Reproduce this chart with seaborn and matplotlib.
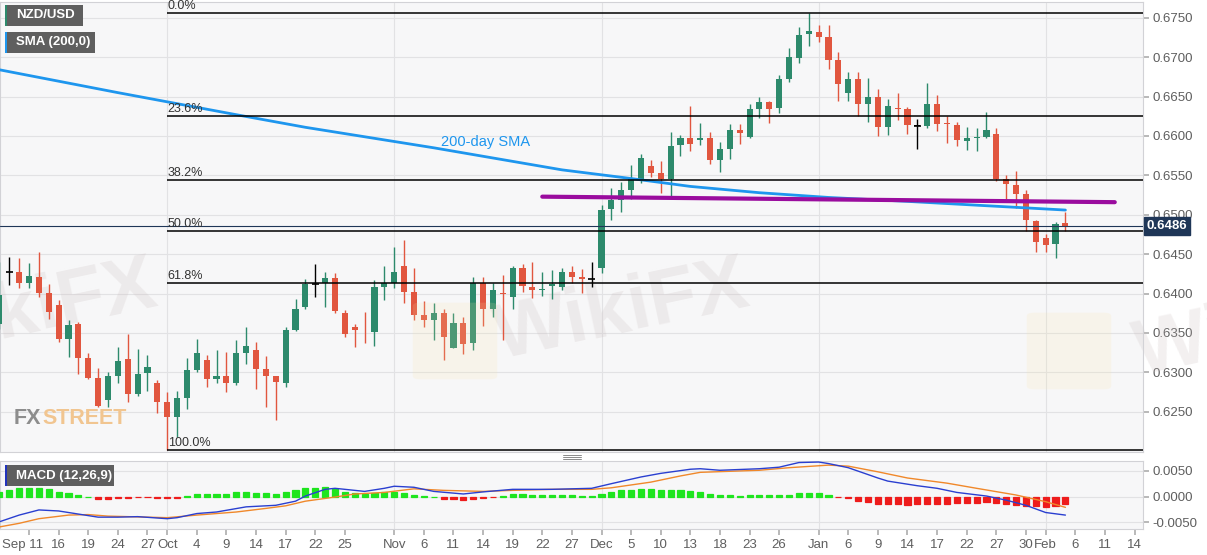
import matplotlib
matplotlib.use('Agg')
import matplotlib.pyplot as plt
import matplotlib.patches as mpatches
import matplotlib.transforms as mtransforms
from matplotlib.lines import Line2D
import seaborn as sns
import pandas as pd
import numpy as np

# trading-day axis (weekdays only, as on the source chart)
axis_days = pd.bdate_range('2019-09-06', '2020-02-14')
pos = {d.strftime('%Y-%m-%d'): i for i, d in enumerate(axis_days)}

# NZD/USD daily candles, 2019-09-06 .. 2020-02-05
opens = [0.6362, 0.6427, 0.6428, 0.6414, 0.6421, 0.6401, 0.6385, 0.6342, 0.6361, 0.6318,
         0.6293, 0.6265, 0.6296, 0.6317, 0.6273, 0.6299, 0.6286, 0.6262, 0.6244, 0.6267,
         0.6303, 0.6316, 0.6291, 0.6296, 0.6287, 0.6325, 0.6329, 0.6304, 0.6295, 0.6286,
         0.6354, 0.6383, 0.6412, 0.6413, 0.6420, 0.6376, 0.6357, 0.6353, 0.6351, 0.6408,
         0.6414, 0.6435, 0.6402, 0.6373, 0.6366, 0.6375, 0.6331, 0.6363, 0.6337, 0.6413,
         0.6380, 0.6401, 0.6396, 0.6432, 0.6409, 0.6404, 0.6410, 0.6409, 0.6428, 0.6421,
         0.6418, 0.6432, 0.6507, 0.6519, 0.6532, 0.6546, 0.6562, 0.6553, 0.6546, 0.6588,
         0.6598, 0.6595, 0.6598, 0.6569, 0.6583, 0.6607, 0.6599, 0.6634, 0.6643, 0.6636,
         0.6672, 0.6699, 0.6729, 0.6732, 0.6726, 0.6697, 0.6655, 0.6672, 0.6641, 0.6649,
         0.6612, 0.6636, 0.6634, 0.6613, 0.6613, 0.6641, 0.6617, 0.6614, 0.6594, 0.6597,
         0.6599, 0.6603, 0.6545, 0.6538, 0.6527, 0.6492, 0.6470, 0.6463, 0.6490]
highs = [0.6440, 0.6447, 0.6445, 0.6439, 0.6453, 0.6412, 0.6392, 0.6367, 0.6364, 0.6324,
         0.6306, 0.6301, 0.6332, 0.6349, 0.6330, 0.6322, 0.6290, 0.6275, 0.6277, 0.6318,
         0.6343, 0.6322, 0.6328, 0.6326, 0.6341, 0.6358, 0.6339, 0.6321, 0.6296, 0.6357,
         0.6393, 0.6418, 0.6438, 0.6428, 0.6426, 0.6379, 0.6362, 0.6377, 0.6417, 0.6435,
         0.6459, 0.6468, 0.6433, 0.6391, 0.6388, 0.6381, 0.6375, 0.6370, 0.6421, 0.6421,
         0.6414, 0.6424, 0.6435, 0.6438, 0.6440, 0.6427, 0.6430, 0.6432, 0.6435, 0.6431,
         0.6440, 0.6512, 0.6534, 0.6541, 0.6563, 0.6577, 0.6570, 0.6568, 0.6605, 0.6601,
         0.6638, 0.6616, 0.6605, 0.6592, 0.6615, 0.6615, 0.6641, 0.6649, 0.6645, 0.6677,
         0.6712, 0.6738, 0.6756, 0.6741, 0.6741, 0.6706, 0.6681, 0.6681, 0.6673, 0.6659,
         0.6647, 0.6654, 0.6637, 0.6622, 0.6667, 0.6652, 0.6625, 0.6618, 0.6611, 0.6610,
         0.6630, 0.6610, 0.6550, 0.6556, 0.6532, 0.6493, 0.6476, 0.6491, 0.6503]
lows = [0.6355, 0.6411, 0.6407, 0.6407, 0.6396, 0.6368, 0.6339, 0.6320, 0.6298, 0.6291,
        0.6256, 0.6256, 0.6286, 0.6263, 0.6270, 0.6277, 0.6248, 0.6202, 0.6218, 0.6254,
        0.6301, 0.6282, 0.6286, 0.6275, 0.6284, 0.6311, 0.6279, 0.6256, 0.6239, 0.6282,
        0.6352, 0.6381, 0.6396, 0.6383, 0.6375, 0.6345, 0.6332, 0.6337, 0.6333, 0.6392,
        0.6407, 0.6388, 0.6367, 0.6358, 0.6341, 0.6316, 0.6331, 0.6323, 0.6329, 0.6359,
        0.6370, 0.6341, 0.6380, 0.6402, 0.6395, 0.6397, 0.6393, 0.6404, 0.6413, 0.6401,
        0.6409, 0.6426, 0.6493, 0.6504, 0.6520, 0.6540, 0.6548, 0.6528, 0.6523, 0.6575,
        0.6581, 0.6588, 0.6565, 0.6554, 0.6571, 0.6590, 0.6598, 0.6623, 0.6616, 0.6629,
        0.6668, 0.6693, 0.6714, 0.6719, 0.6685, 0.6644, 0.6645, 0.6625, 0.6618, 0.6600,
        0.6601, 0.6620, 0.6603, 0.6584, 0.6610, 0.6606, 0.6591, 0.6587, 0.6582, 0.6581,
        0.6598, 0.6543, 0.6520, 0.6509, 0.6480, 0.6453, 0.6453, 0.6445, 0.6480]
closes = [0.6398, 0.6427, 0.6413, 0.6422, 0.6401, 0.6377, 0.6342, 0.6360, 0.6318, 0.6293,
          0.6258, 0.6296, 0.6315, 0.6273, 0.6298, 0.6307, 0.6263, 0.6244, 0.6267, 0.6303,
          0.6325, 0.6291, 0.6296, 0.6287, 0.6324, 0.6333, 0.6304, 0.6295, 0.6288, 0.6354,
          0.6380, 0.6412, 0.6412, 0.6420, 0.6378, 0.6349, 0.6354, 0.6352, 0.6408, 0.6414,
          0.6428, 0.6402, 0.6373, 0.6366, 0.6375, 0.6345, 0.6363, 0.6336, 0.6413, 0.6381,
          0.6404, 0.6399, 0.6432, 0.6410, 0.6405, 0.6406, 0.6412, 0.6428, 0.6421, 0.6418,
          0.6418, 0.6506, 0.6519, 0.6532, 0.6546, 0.6572, 0.6553, 0.6546, 0.6587, 0.6598,
          0.6590, 0.6597, 0.6569, 0.6583, 0.6607, 0.6604, 0.6634, 0.6643, 0.6634, 0.6672,
          0.6700, 0.6728, 0.6733, 0.6726, 0.6697, 0.6666, 0.6672, 0.6640, 0.6649, 0.6612,
          0.6638, 0.6634, 0.6614, 0.6613, 0.6641, 0.6615, 0.6615, 0.6595, 0.6597, 0.6599,
          0.6607, 0.6545, 0.6539, 0.6527, 0.6493, 0.6465, 0.6462, 0.6488, 0.6486]

# 200-day SMA
sma_dates = ['2019-09-06', '2019-09-24', '2019-10-10', '2019-10-21', '2019-11-07', '2019-11-26',
             '2019-12-05', '2019-12-13', '2019-12-24', '2020-01-02', '2020-01-14', '2020-02-05']
sma_vals = [0.6684, 0.6655, 0.6627, 0.6611, 0.6585, 0.6557,
            0.6546, 0.6536, 0.6528, 0.6522, 0.6517, 0.6506]

# purple resistance line
trend_dates = ['2019-11-22', '2020-02-12']
trend_vals = [0.6523, 0.6516]

last_price = 0.6486

fib_ratios = [0.0, 0.236, 0.382, 0.5, 0.618, 1.0]
fib_labels = ['0.0%', '23.6%', '38.2%', '50.0%', '61.8%', '100.0%']
fib_start = '2019-10-01'

# MACD (12,26,9)
macd_dates = ['2019-09-06', '2019-09-10', '2019-09-12', '2019-09-16', '2019-09-18', '2019-09-20',
              '2019-09-24', '2019-09-26', '2019-10-01', '2019-10-02', '2019-10-04', '2019-10-08',
              '2019-10-11', '2019-10-16', '2019-10-18', '2019-10-21', '2019-10-23', '2019-10-24',
              '2019-10-25', '2019-10-29', '2019-10-31', '2019-11-01', '2019-11-05', '2019-11-07',
              '2019-11-12', '2019-11-14', '2019-11-19', '2019-11-25', '2019-11-29', '2019-12-03',
              '2019-12-06', '2019-12-10', '2019-12-13', '2019-12-16', '2019-12-18', '2019-12-24',
              '2019-12-26', '2019-12-30', '2020-01-01', '2020-01-02', '2020-01-06', '2020-01-09',
              '2020-01-10', '2020-01-15', '2020-01-17', '2020-01-21', '2020-01-24', '2020-01-28',
              '2020-01-30', '2020-02-03', '2020-02-05']
macd_vals = [-0.0049, -0.0036, -0.0026, -0.0028, -0.0034, -0.0040,
             -0.0040, -0.0039, -0.0043, -0.0041, -0.0033, -0.0030,
             -0.0020, -0.0017, -0.0009, 0.0001, 0.0014, 0.0016,
             0.0014, 0.0010, 0.0016, 0.0020, 0.0018, 0.0010,
             0.0005, 0.0009, 0.0014, 0.0014, 0.0016, 0.0025,
             0.0038, 0.0045, 0.0053, 0.0054, 0.0051, 0.0054,
             0.0057, 0.0066, 0.0067, 0.0064, 0.0056, 0.0036,
             0.0030, 0.0021, 0.0016, 0.0008, 0.0001, -0.0007,
             -0.0017, -0.0031, -0.0036]
signal_dates = ['2019-09-06', '2019-09-10', '2019-09-12', '2019-09-17', '2019-09-19', '2019-09-23',
                '2019-09-25', '2019-10-01', '2019-10-04', '2019-10-10', '2019-10-15', '2019-10-17',
                '2019-10-21', '2019-10-24', '2019-10-28', '2019-10-31', '2019-11-05', '2019-11-08',
                '2019-11-14', '2019-11-19', '2019-11-25', '2019-11-29', '2019-12-03', '2019-12-09',
                '2019-12-12', '2019-12-16', '2019-12-19', '2019-12-24', '2019-12-27', '2020-01-02',
                '2020-01-06', '2020-01-09', '2020-01-14', '2020-01-20', '2020-01-23', '2020-01-29',
                '2020-02-03', '2020-02-05']
signal_vals = [-0.0059, -0.0052, -0.0043, -0.0036, -0.0035, -0.0038,
               -0.0039, -0.0041, -0.0036, -0.0030, -0.0023, -0.0018,
               -0.0009, -0.0001, 0.0005, 0.0008, 0.0015, 0.0012,
               0.0010, 0.0012, 0.0014, 0.0014, 0.0017, 0.0028,
               0.0040, 0.0047, 0.0049, 0.0051, 0.0056, 0.0061,
               0.0059, 0.0048, 0.0036, 0.0026, 0.0016, 0.0003,
               -0.0010, -0.0021]
hist_vals = [0.0009, 0.0012, 0.0016, 0.0017, 0.0016, 0.0014, 0.0008, 0.0007, 0.0003, 0.0000,
             -0.0004, -0.0004, -0.0003, -0.0002, -0.0001, -0.0001, -0.0002, -0.0003, -0.0002, 0.0001,
             0.0004, 0.0004, 0.0004, 0.0005, 0.0008, 0.0009, 0.0007, 0.0006, 0.0005, 0.0008,
             0.0012, 0.0016, 0.0017, 0.0018, 0.0014, 0.0009, 0.0007, 0.0005, 0.0006, 0.0008,
             0.0008, 0.0006, 0.0003, 0.0001, 0.0000, -0.0004, -0.0004, -0.0006, -0.0004, -0.0002,
             -0.0001, 0.0001, 0.0004, 0.0004, 0.0003, 0.0003, 0.0003, 0.0003, 0.0003, 0.0002,
             0.0002, 0.0005, 0.0009, 0.0012, 0.0013, 0.0015, 0.0014, 0.0012, 0.0012, 0.0012,
             0.0010, 0.0008, 0.0005, 0.0003, 0.0003, 0.0002, 0.0003, 0.0003, 0.0003, 0.0003,
             0.0003, 0.0006, 0.0007, 0.0006, 0.0003, -0.0001, -0.0003, -0.0009, -0.0010, -0.0014,
             -0.0014, -0.0015, -0.0016, -0.0015, -0.0014, -0.0014, -0.0014, -0.0013, -0.0012, -0.0012,
             -0.0011, -0.0012, -0.0014, -0.0017, -0.0018, -0.0019, -0.0020, -0.0019, -0.0015]

tick_dates = ['2019-09-11', '2019-09-16', '2019-09-19', '2019-09-24', '2019-09-27', '2019-10-01',
              '2019-10-04', '2019-10-09', '2019-10-14', '2019-10-17', '2019-10-22', '2019-10-25',
              '2019-11-01', '2019-11-06', '2019-11-11', '2019-11-14', '2019-11-19', '2019-11-22',
              '2019-11-27', '2019-12-02', '2019-12-05', '2019-12-10', '2019-12-13', '2019-12-18',
              '2019-12-23', '2019-12-26', '2020-01-01', '2020-01-06', '2020-01-09', '2020-01-14',
              '2020-01-17', '2020-01-22', '2020-01-27', '2020-01-30', '2020-02-03', '2020-02-06',
              '2020-02-11', '2020-02-14']
tick_labels = ['Sep 11', '16', '19', '24', '27', 'Oct', '4', '9', '14', '17', '22', '25',
               'Nov', '6', '11', '14', '19', '22', '27', 'Dec', '5', '10', '13', '18',
               '23', '26', 'Jan', '6', '9', '14', '17', '22', '27', '30', 'Feb', '6', '11', '14']
month_starts = ['2019-10-01', '2019-11-01', '2019-12-02', '2020-01-01', '2020-02-03']

GREEN = '#2d8a6c'
RED = '#e1563f'
SMA_BLUE = '#1e96ee'
GRID = '#e2e2e4'
LABEL = '#5e5e5e'

sns.set_theme(style='white')
plt.rcParams['font.family'] = ['Liberation Sans', 'DejaVu Sans']
plt.rcParams['axes.unicode_minus'] = False

W, H = 1207, 555
fig = plt.figure(figsize=(W / 100, H / 100), dpi=100)
fig.patch.set_facecolor('white')


def fx(x):
    return x / W


def fy(y):
    return 1 - y / H


ax = fig.add_axes([0, fy(452), fx(1143), (452 - 2) / H])
ax2 = fig.add_axes([0, fy(529), fx(1143), (529 - 461) / H])

xmin, xmax = 0.06, 115.86
for a in (ax, ax2):
    a.set_facecolor('#f7f7f8')
    a.set_xlim(xmin, xmax)
    for s in a.spines.values():
        s.set_color('#d2d2d6')
        s.set_linewidth(0.8)
    for d in month_starts:
        a.axvline(pos[d], color=GRID, lw=0.8, zorder=0)

# ---- watermarks (behind the marks)
for (cx, cy) in [(30, 312), (622, 312)]:
    ax.text(cx / 1143, (452 - cy) / 450, 'WikiFX', transform=ax.transAxes,
            fontsize=56, fontweight='bold', color='#c8bcbc', alpha=0.22, rotation=12,
            ha='center', va='center', zorder=1, clip_on=True)
ax.text(1128 / 1143, (452 - 345) / 450, 'Wi', transform=ax.transAxes,
        fontsize=56, fontweight='bold', color='#c8bcbc', alpha=0.22, rotation=12,
        ha='left', va='center', zorder=1, clip_on=False)
for (x0, y0) in [(420, 302), (1034, 312)]:
    fig.patches.append(mpatches.FancyBboxPatch((fx(x0), fy(y0 + 74)), fx(70), 70 / H,
                                               boxstyle='round,pad=0.006',
                                               transform=fig.transFigure, fc='#f9e4a6',
                                               ec='none', alpha=0.16, zorder=1))

# ---- candles
x = np.arange(len(opens))
o = np.array(opens)
c = np.array(closes)
cols = np.where(c > o, GREEN, np.where(c < o, RED, 'black'))
ax.vlines(x, lows, highs, colors=cols, lw=1.0, zorder=3)
body_h = np.maximum(np.abs(c - o), 0.00003)
ax.bar(x, body_h, bottom=np.minimum(o, c), width=0.62, color=cols, zorder=4, linewidth=0)
doji = c == o
ax.hlines(c[doji], x[doji] - 0.35, x[doji] + 0.35, colors='black', lw=1.2, zorder=4)

ax.set_ylim(0.6199, 0.6770)
ax.set_yticks(np.arange(0.625, 0.6751, 0.005))
ax.yaxis.tick_right()
ax.yaxis.set_major_formatter(matplotlib.ticker.FormatStrFormatter('%.4f'))
ax.tick_params(axis='y', right=True, length=4, color='#b0b0b0', labelsize=9.5,
               labelcolor=LABEL, pad=3)
ax.tick_params(axis='x', bottom=False, labelbottom=False)
ax.grid(axis='y', color=GRID, lw=0.8)
ax.set_axisbelow(True)

# ---- SMA
sma_df = pd.DataFrame({'x': [pos[d] for d in sma_dates], 'v': sma_vals})
sns.lineplot(data=sma_df, x='x', y='v', ax=ax, color=SMA_BLUE, lw=2.0, zorder=5)
ax.text(44.7, 0.6592, '200-day SMA', color=SMA_BLUE, fontsize=10.5, va='center', ha='left')

# ---- trend line
trend_df = pd.DataFrame({'x': [pos[d] for d in trend_dates], 'v': trend_vals})
sns.lineplot(data=trend_df, x='x', y='v', ax=ax, color='#9a0c9e', lw=3.0, zorder=6)

# ---- fibonacci retracement
hi, lo = max(highs), min(lows)
for r, lab in zip(fib_ratios, fib_labels):
    lvl = hi - r * (hi - lo)
    ax.hlines(lvl, pos[fib_start], xmax, color='black', lw=1.1, zorder=6)
    ax.text(pos[fib_start] + 0.05, lvl + 0.00013, lab, fontsize=9, color='#333333',
            ha='left', va='bottom', zorder=7)

# ---- last price
ax.axhline(last_price, color='#1f3657', lw=0.8, zorder=6)
trans = mtransforms.blended_transform_factory(ax.transAxes, ax.transData)
ax.text(1.003, last_price, '%.4f' % last_price, transform=trans, fontsize=9.5, color='white',
        fontweight='bold', ha='left', va='center', clip_on=False, zorder=10,
        bbox=dict(boxstyle='square,pad=0.22', fc='#1f3657', ec='#1f3657'))
ax.set_xlabel('')
ax.set_ylabel('')

# ---- MACD panel
hcols = ['#1ee51e' if v >= 0 else '#ee1c1c' for v in hist_vals]
ax2.bar(np.arange(len(hist_vals)), hist_vals, width=0.62, color=hcols, edgecolor=hcols,
        linewidth=0.9, zorder=3)
macd_df = pd.DataFrame({'x': [pos[d] for d in macd_dates], 'v': macd_vals})
sig_df = pd.DataFrame({'x': [pos[d] for d in signal_dates], 'v': signal_vals})
sns.lineplot(data=sig_df, x='x', y='v', ax=ax2, color='#f0882a', lw=1.0, zorder=4)
sns.lineplot(data=macd_df, x='x', y='v', ax=ax2, color='#2a3fd0', lw=1.0, zorder=5)
ax2.set_ylim(-0.0063, 0.0069)
ax2.set_yticks([-0.005, 0.0, 0.005])
ax2.yaxis.tick_right()
ax2.yaxis.set_major_formatter(matplotlib.ticker.FormatStrFormatter('%.4f'))
ax2.tick_params(axis='y', right=True, length=4, color='#b0b0b0', labelsize=9.5,
                labelcolor=LABEL, pad=3)
ax2.grid(axis='y', color=GRID, lw=0.8)
ax2.set_axisbelow(True)
ax2.set_xticks([pos[d] for d in tick_dates])
ax2.set_xticklabels(tick_labels)
ax2.tick_params(axis='x', bottom=True, length=4, color='#b0b0b0', labelsize=9.5,
                labelcolor=LABEL, pad=3)
first = ax2.get_xticklabels()[0]
first.set_transform(first.get_transform() +
                    mtransforms.ScaledTranslation(-0.06, 0, fig.dpi_scale_trans))
ax2.set_xlabel('')
ax2.set_ylabel('')

# ---- legend tags
def tag(x0, y0, x1, y1, strip, text):
    fig.patches.append(mpatches.Rectangle((fx(x0), fy(y1)), fx(x1 - x0), (y1 - y0) / H,
                                          transform=fig.transFigure, fc='#5f5f5f', ec='none',
                                          zorder=20))
    fig.patches.append(mpatches.Rectangle((fx(x0), fy(y1)), fx(2), (y1 - y0) / H,
                                          transform=fig.transFigure, fc=strip, ec='none',
                                          zorder=21))
    fig.text(fx(x0 + 11), fy((y0 + y1) / 2), text, color='white', fontsize=9.5,
             fontweight='bold', va='center', ha='left', zorder=22)


tag(5, 5, 83, 26, GREEN, 'NZD/USD')
tag(5, 32, 95, 53, SMA_BLUE, 'SMA (200,0)')
tag(5, 465, 114, 486, '#2233bb', 'MACD (12,26,9)')

# panel resize handle
for yy in (455, 457, 459):
    fig.lines.append(Line2D([fx(563), fx(581)], [fy(yy), fy(yy)], transform=fig.transFigure,
                            color='#8a8a8a', lw=0.7))

# FXSTREET logo
fig.text(fx(14), fy(419), 'FX', fontsize=15.5, fontweight='bold', color='#8d8d8d',
         va='center', ha='left', zorder=2)
fig.text(fx(42), fy(419), 'STREET', fontsize=15.5, fontweight='bold', color='#f1c590',
         va='center', ha='left', zorder=2)

fig.savefig('out.png', dpi=100, facecolor='white')
